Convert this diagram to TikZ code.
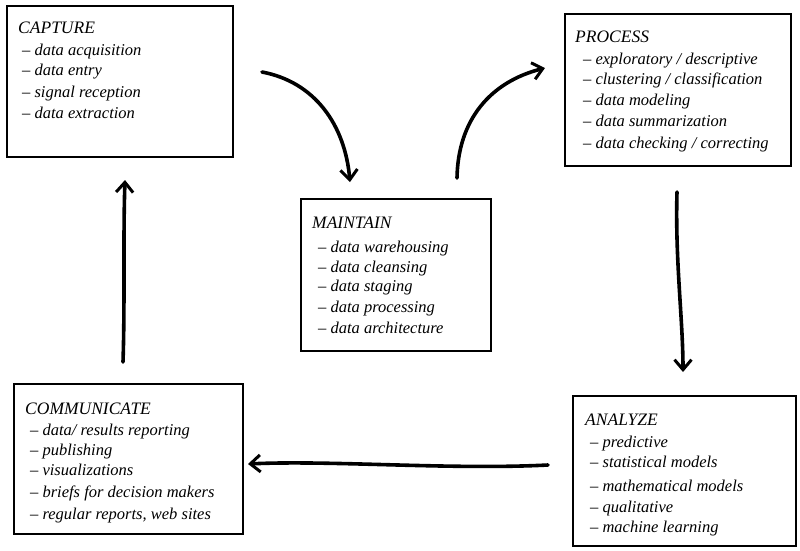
\documentclass[tikz,border=0pt]{standalone}
\usepackage{fontspec}
\setmainfont{Liberation Serif}
\usetikzlibrary{arrows.meta}
\tikzset{
  box/.style={draw=black, line width=1.8pt, rectangle, inner sep=0pt, anchor=north west},
  head/.style={font=\fontsize{17.5}{20}\selectfont\itshape, anchor=base west, inner sep=0pt},
  item/.style={font=\fontsize{16.5}{19}\selectfont\itshape, anchor=base west, inner sep=0pt},
  flow/.style={line width=3.6pt, line cap=round, -{Straight Barb[length=10pt,width=17pt,line width=3pt]}}
}
\begin{document}
\begin{tikzpicture}[x=1pt,y=-1pt]
\useasboundingbox (0,0) rectangle (800,550);
% boxes
\node[box, minimum width=226pt, minimum height=151pt] (cap) at (6,5) {};
\node[box, minimum width=226pt, minimum height=152pt] (pro) at (564,13) {};
\node[box, minimum width=190pt, minimum height=152pt] (mai) at (300,198) {};
\node[box, minimum width=229pt, minimum height=150pt] (com) at (13,383) {};
\node[box, minimum width=223pt, minimum height=150pt] (ana) at (572,395) {};
% texts
\node[head] (capH) at (18,33) {CAPTURE};
\foreach \y/\t [count=\i] in {55/{data acquisition}, 75/{data entry}, 97/{signal reception}, 118/{data extraction}}
  \node[item] (cap\i) at (22,\y) {\textendash\ \t};
\node[head] (proH) at (575,42) {PROCESS};
\foreach \y/\t [count=\i] in {64/{exploratory / descriptive}, 84/{clustering / classification}, 105/{data modeling}, 126/{data summarization}, 148/{data checking / correcting}}
  \node[item] (pro\i) at (583,\y) {\textendash\ \t};
\node[head] (maiH) at (312,228) {MAINTAIN};
\foreach \y/\t [count=\i] in {252/{data warehousing}, 272/{data cleansing}, 291/{data staging}, 312/{data processing}, 333/{data architecture}}
  \node[item] (mai\i) at (318,\y) {\textendash\ \t};
\node[head] (comH) at (25,414) {COMMUNICATE};
\foreach \y/\t [count=\i] in {435/{data/ results reporting}, 455/{publishing}, 475/{visualizations}, 497/{briefs for decision makers}, 519/{regular reports, web sites}}
  \node[item] (com\i) at (30,\y) {\textendash\ \t};
\node[head] (anaH) at (585,425) {ANALYZE};
\foreach \y/\t [count=\i] in {447/{predictive}, 467/{statistical models}, 491/{mathematical models}, 512/{qualitative}, 532/{machine learning}}
  \node[item] (ana\i) at (590,\y) {\textendash\ \t};
% connector ends
\coordinate (c1) at (262,72);
\coordinate (m1) at (350,182);
\coordinate (m2) at (457,178);
\coordinate (p1) at (545,68);
\coordinate (p2) at (677,192);
\coordinate (a1) at (683,372);
\coordinate (a2) at (548,465);
\coordinate (k1) at (248,464);
\coordinate (k2) at (123,362);
\coordinate (c2) at (125,180);
% connectors
\draw[flow] (c1) .. controls (315,82) and (345,125) .. (m1);
\draw[flow] (m2) .. controls (458,120) and (490,82) .. (p1);
\draw[flow] (p2) .. controls (675,260) and (683,320) .. (a1);
\draw[flow] (a2) .. controls (450,470) and (330,460) .. (k1);
\draw[flow] (k2) .. controls (125,300) and (123,240) .. (c2);
\end{tikzpicture}
\end{document}
